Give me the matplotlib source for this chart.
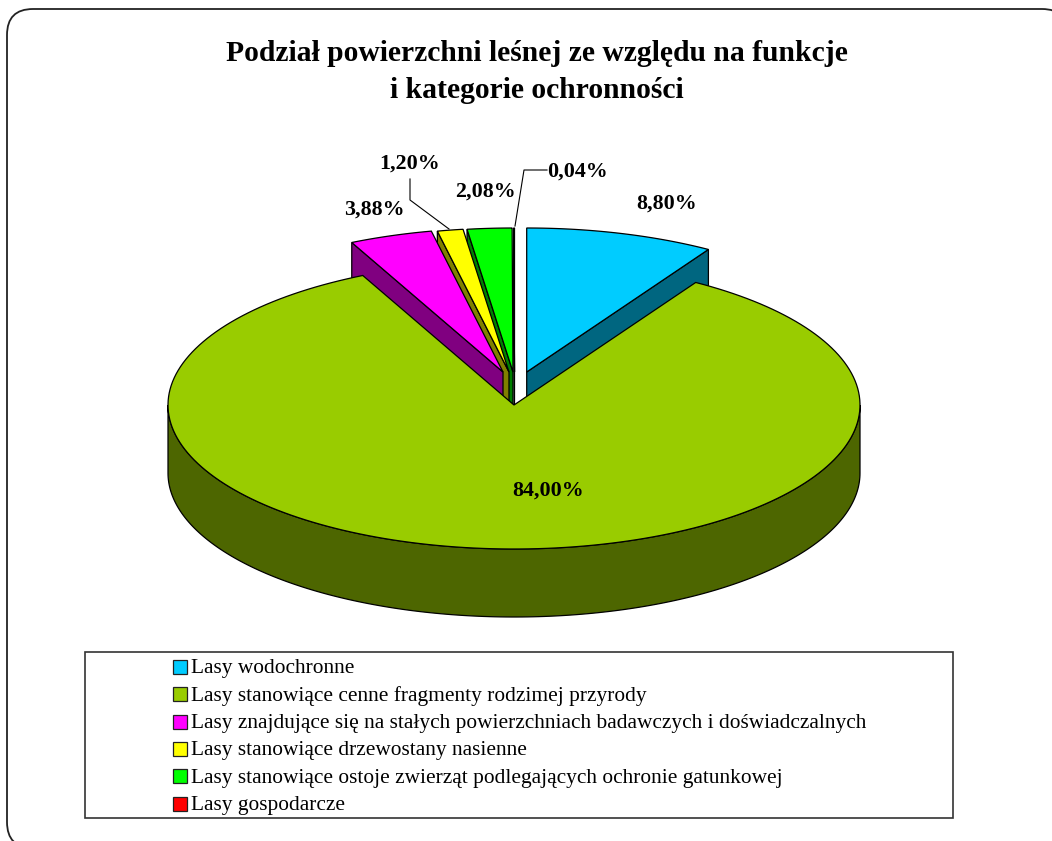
import numpy as np
import matplotlib
matplotlib.use('Agg')
import matplotlib.pyplot as plt
from matplotlib.patches import Polygon, Rectangle, FancyBboxPatch

# Forest area split by function, percent, clockwise from 12 o'clock
categories = ['Lasy wodochronne',
              'Lasy stanowiące cenne fragmenty rodzimej przyrody',
              'Lasy znajdujące się na stałych powierzchniach badawczych i doświadczalnych',
              'Lasy stanowiące drzewostany nasienne',
              'Lasy stanowiące ostoje zwierząt podlegających ochronie gatunkowej',
              'Lasy gospodarcze']
values = [8.80, 84.00, 3.88, 1.20, 2.08, 0.04]
value_labels = ['8,80%', '84,00%', '3,88%', '1,20%', '2,08%', '0,04%']

top_colors = ['#00CCFF', '#99CC00', '#FF00FF', '#FFFF00', '#00FF00', '#FF0000']
side_colors = ['#006680', '#4D6600', '#800080', '#808000', '#008000', '#800000']

# pie geometry, in pixels
cx, cy = 514, 405
rx, ry = 346, 144
depth = 68
lift = 33
shift_x = [12.7, 0, -11, -5, -1, 0.5]
shift_y = [lift, 0, lift, lift, lift, lift]


def rim(t1, t2, x0, y0):
    t = np.radians(np.linspace(t1, t2, 200))
    return np.column_stack([x0 + rx * np.sin(t), y0 - ry * np.cos(t)])


fig = plt.figure(figsize=(10.52, 8.41), dpi=100)
ax = fig.add_axes([0, 0, 1, 1])
ax.set_xlim(0, 1052)
ax.set_ylim(841, 0)
ax.axis('off')

# rounded frame, runs off the right and bottom of the picture
ax.add_patch(FancyBboxPatch((7, 9), 1061, 839, boxstyle='round,pad=0,rounding_size=26',
                            fc='white', ec='#222222', lw=1.3))

angles = np.cumsum([0] + values) * 3.6
serif = 'Liberation Serif'

# exploded slices sit behind the big one, painted right to left so each top hides the next wall
for i in [5, 4, 3, 2, 0]:
    x0, y0 = cx + shift_x[i], cy - shift_y[i]
    a1, a2 = angles[i], angles[i + 1]
    end = a2 if i == 0 else a1
    p = rim(end, end, x0, y0)[0]
    ax.add_patch(Polygon([(x0, y0), p, p + [0, depth], (x0, y0 + depth)],
                         fc=side_colors[i], ec='black', lw=0.9))
    top = np.vstack([[x0, y0], rim(a1, a2, x0, y0)])
    ax.add_patch(Polygon(top, fc=top_colors[i], ec='black', lw=0.9))

# big slice: outer wall then top
front = rim(90, 270, cx, cy)
wall = np.vstack([front, (front + [0, depth])[::-1]])
ax.add_patch(Polygon(wall, fc=side_colors[1], ec='black', lw=0.9))
top = np.vstack([[cx, cy], rim(angles[1], angles[2], cx, cy)])
ax.add_patch(Polygon(top, fc=top_colors[1], ec='black', lw=0.9))

# leader lines
ax.plot([449, 410, 410], [229, 200, 179], color='black', lw=0.8)
ax.plot([515, 524, 547], [226, 170, 170], color='black', lw=0.8)

label_pos = [(667, 209), (548, 496), (374.5, 215), (410, 168.5), (485, 196.5), (578, 176.5)]
for txt, (x, y) in zip(value_labels, label_pos):
    ax.text(x, y, txt, family=serif, weight='bold', fontsize=15.8, ha='center', va='baseline')

ax.text(537, 61, 'Podział powierzchni leśnej ze względu na funkcje', family=serif,
        weight='bold', fontsize=21.3, ha='center', va='baseline')
ax.text(537, 98, 'i kategorie ochronności', family=serif,
        weight='bold', fontsize=21.3, ha='center', va='baseline')

# legend
ax.add_patch(Rectangle((85, 652), 868, 166, fc='white', ec='#333333', lw=1.2))
for i, name in enumerate(categories):
    y = 667 + i * 27.3
    ax.add_patch(Rectangle((173, y - 7), 14, 14, fc=top_colors[i], ec='#222222', lw=0.9))
    ax.text(191, y + 6.3, name, family=serif, fontsize=15.4, ha='left', va='baseline')

fig.savefig('out.png', dpi=100)
